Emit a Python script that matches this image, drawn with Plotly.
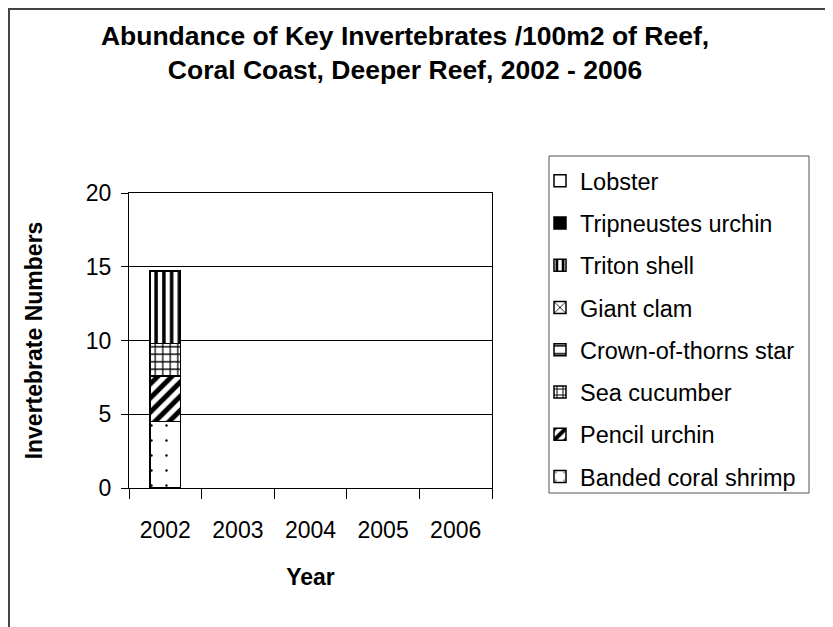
import plotly.graph_objects as go

years = ["2002", "2003", "2004", "2005", "2006"]
series_names = [
    "Banded coral shrimp",
    "Pencil urchin",
    "Sea cucumber",
    "Crown-of-thorns star",
    "Giant clam",
    "Triton shell",
    "Tripneustes urchin",
    "Lobster",
]
banded_coral_shrimp = [4.5, None, None, None, None]
pencil_urchin = [3.1, None, None, None, None]
sea_cucumber = [2.2, None, None, None, None]
crown_of_thorns_star = [0, None, None, None, None]
giant_clam = [0, None, None, None, None]
triton_shell = [4.9, None, None, None, None]
tripneustes_urchin = [0, None, None, None, None]
lobster = [0, None, None, None, None]

values = [banded_coral_shrimp, pencil_urchin, sea_cucumber, crown_of_thorns_star,
          giant_clam, triton_shell, tripneustes_urchin, lobster]

patterns = [
    dict(shape=".", size=15, solidity=0.02, fgcolor="black", bgcolor="white", fgopacity=1),
    dict(shape="/", size=10, solidity=0.5, fgcolor="black", bgcolor="white", fgopacity=1),
    dict(shape="+", size=7.5, solidity=0.3, fgcolor="black", bgcolor="white", fgopacity=1),
    dict(shape="-", size=10, solidity=0.2, fgcolor="black", bgcolor="white", fgopacity=1),
    dict(shape="x", size=10, solidity=0.2, fgcolor="black", bgcolor="white", fgopacity=1),
    dict(shape="|", size=7.75, solidity=0.45, fgcolor="black", bgcolor="white", fgopacity=1),
    dict(shape="", fgcolor="black", bgcolor="black"),
    dict(shape="", fgcolor="black", bgcolor="white"),
]
fills = ["white"] * 6 + ["black", "white"]

FONT = "Arial, Liberation Sans, sans-serif"

fig = go.Figure()
n = len(series_names)
for i, (name, vals, pat, fill) in enumerate(zip(series_names, values, patterns, fills)):
    fig.add_trace(go.Bar(
        x=years, y=vals, name=name, legendgroup=name, legendrank=100 * (n - i),
        marker=dict(color=fill, pattern=pat, line=dict(color="black", width=1.5)),
    ))

# page has an 8px body margin; work in figure coordinates (screen - 8)
OFF = 8
W, H = 833 - OFF, 627 - OFF
L, R, T, B = 129 - OFF, 833 - 492, 120, 100
pw, ph = W - L - R, H - T - B
paper_bottom = H - B


def fx(x_screen):
    return (x_screen - OFF - L) / pw


def fy(y_screen):
    return (paper_bottom - (y_screen - OFF)) / ph


fig.update_layout(
    width=W, height=H,
    margin=dict(l=L, r=R, t=T, b=B),
    barmode="stack", bargap=0.58,
    paper_bgcolor="white", plot_bgcolor="white",
    font=dict(family=FONT, size=23, color="black"),
    title=dict(
        text="Abundance of Key Invertebrates /100m2 of Reef,<br>Coral Coast, Deeper Reef, 2002 - 2006",
        font=dict(family=FONT, size=26.5, color="black", weight="bold"),
        x=(405 - OFF) / W, xref="container", xanchor="center",
        y=1 - 37 / H, yref="container", yanchor="top",
    ),
    xaxis=dict(
        type="category", showline=True, linecolor="black", linewidth=1, mirror=True,
        ticks="outside", tickson="boundaries", ticklen=10, tickcolor="black",
        ticklabelstandoff=21, showgrid=False,
        title=dict(text="Year", font=dict(family=FONT, size=23, weight="bold"), standoff=27),
    ),
    yaxis=dict(
        domain=[fy(488), fy(193)],
        range=[0, 20], dtick=5, showline=True, linecolor="black", linewidth=1, mirror=True,
        ticks="outside", ticklen=7, tickcolor="black", ticklabelstandoff=5,
        showgrid=True, gridcolor="black", gridwidth=1, zeroline=False,
        title=dict(text="Invertebrate Numbers", font=dict(family=FONT, size=23, weight="bold"), standoff=36),
    ),
    legend=dict(
        x=fx(540), y=fy(159), xanchor="left", yanchor="top",
        traceorder="grouped", tracegroupgap=8.7,
        borderwidth=0, bgcolor="rgba(0,0,0,0)",
        font=dict(family=FONT, size=23.5),
        itemwidth=30,
    ),
    shapes=[
        dict(
            type="rect", xref="paper", yref="paper",
            x0=fx(549), x1=fx(809), y0=fy(493), y1=fy(156),
            line=dict(color="#555", width=1), fillcolor="white", layer="below",
        ),
        dict(
            type="rect", xref="paper", yref="paper",
            x0=fx(OFF + 1), x1=fx(833 + 40), y0=fy(627 + 40), y1=fy(OFF + 1),
            line=dict(color="#444", width=2), fillcolor="rgba(0,0,0,0)", layer="below",
        ),
    ],
)

fig.write_html("out.html")
